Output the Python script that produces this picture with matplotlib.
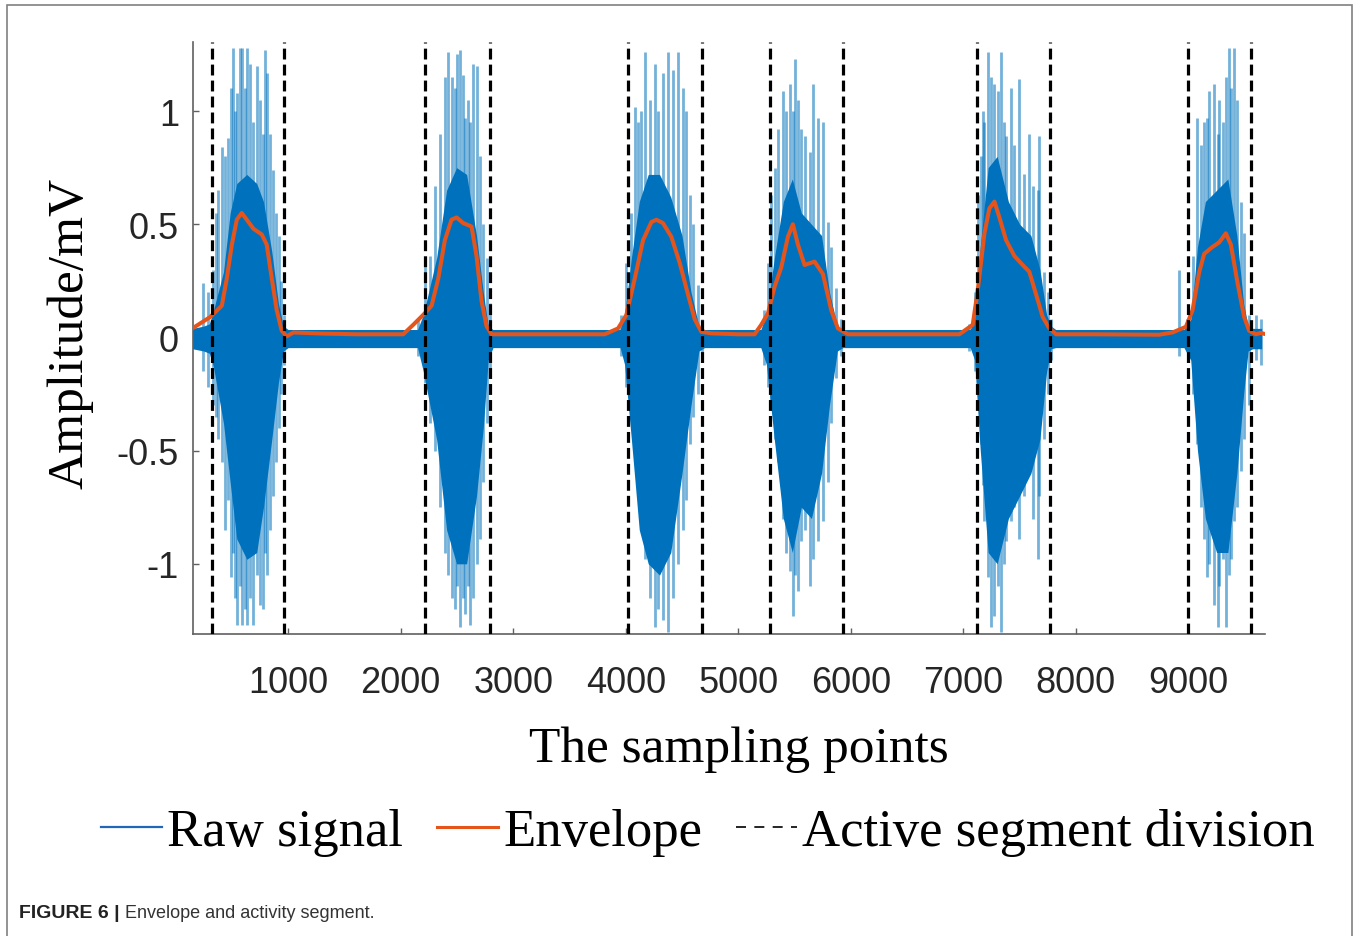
import matplotlib
matplotlib.use("Agg")
import matplotlib.pyplot as plt
from matplotlib.lines import Line2D
from matplotlib.patches import Rectangle

# ---- data ----
# dense core of the raw signal (solid band): x, upper, lower
core_x = [150, 250, 300, 337, 426, 485, 544, 633, 721, 781, 855, 914, 958, 1000,
          2150, 2201, 2319, 2408, 2497, 2586, 2674, 2734, 2778, 2820,
          3950, 3990, 4050, 4120, 4200, 4300, 4400, 4500, 4580, 4650, 4700,
          5200, 5250, 5320, 5400, 5480, 5560, 5650, 5740, 5810, 5880, 5930,
          7060, 7100, 7150, 7220, 7300, 7400, 7500, 7600, 7680, 7740, 7780, 7820,
          8960, 9020, 9080, 9150, 9250, 9350, 9430, 9490, 9530, 9570, 9650]
core_hi = [0.04, 0.05, 0.06, 0.12, 0.29, 0.55, 0.68, 0.72, 0.68, 0.60, 0.38, 0.15, 0.05, 0.035,
           0.035, 0.10, 0.35, 0.65, 0.75, 0.72, 0.45, 0.20, 0.05, 0.035,
           0.035, 0.10, 0.35, 0.60, 0.72, 0.72, 0.62, 0.45, 0.20, 0.05, 0.035,
           0.035, 0.10, 0.35, 0.60, 0.70, 0.55, 0.50, 0.45, 0.20, 0.05, 0.035,
           0.035, 0.08, 0.40, 0.75, 0.80, 0.60, 0.50, 0.45, 0.30, 0.10, 0.05, 0.035,
           0.035, 0.08, 0.40, 0.60, 0.65, 0.70, 0.45, 0.15, 0.05, 0.04, 0.04]
core_lo = [-0.05, -0.06, -0.07, -0.13, -0.38, -0.64, -0.89, -0.98, -0.95, -0.75, -0.45, -0.20, -0.06, -0.045,
           -0.045, -0.15, -0.45, -0.85, -1.00, -1.00, -0.70, -0.40, -0.10, -0.045,
           -0.045, -0.12, -0.45, -0.85, -1.00, -1.05, -0.95, -0.60, -0.30, -0.06, -0.045,
           -0.045, -0.12, -0.45, -0.80, -0.95, -0.75, -0.80, -0.60, -0.30, -0.06, -0.045,
           -0.045, -0.10, -0.50, -0.95, -1.00, -0.80, -0.70, -0.60, -0.45, -0.15, -0.05, -0.045,
           -0.045, -0.10, -0.50, -0.80, -0.95, -0.95, -0.60, -0.25, -0.06, -0.05, -0.05]

# individual spikes of each burst: (x, top, bottom)
spikes_b1 = [(245, 0.24, -0.15), (290, 0.20, -0.22), (330, 0.30, -0.30), (360, 0.55, -0.35),
             (380, 0.65, -0.45), (414, 0.84, -0.55), (440, 0.80, -0.85), (467, 0.88, -0.72),
             (490, 1.10, -1.06), (511, 1.28, -0.95), (530, 1.00, -1.15), (547, 1.08, -1.27),
             (570, 1.28, -1.10), (591, 1.28, -1.27), (615, 1.10, -1.20), (636, 1.28, -1.27),
             (662, 1.21, -1.15), (690, 0.95, -1.27), (724, 1.20, -1.05), (750, 1.05, -1.18),
             (775, 0.90, -1.20), (795, 1.27, -0.95), (813, 1.17, -1.05), (840, 0.90, -0.85),
             (866, 0.74, -0.70), (890, 0.55, -0.55), (915, 0.45, -0.40), (940, 0.25, -0.25),
             (965, 0.10, -0.12)]
spikes_b2 = [(2150, 0.08, -0.08), (2216, 0.33, -0.20), (2260, 0.36, -0.38), (2304, 0.67, -0.50),
             (2348, 0.90, -0.75), (2393, 1.15, -0.95), (2423, 1.26, -1.05), (2452, 1.15, -1.15),
             (2482, 1.10, -1.20), (2497, 1.25, -1.10), (2526, 1.27, -1.28), (2553, 1.16, -1.15),
             (2571, 0.97, -1.22), (2598, 1.05, -1.10), (2615, 0.95, -1.27), (2645, 1.21, -1.15),
             (2677, 1.20, -1.00), (2704, 0.80, -0.89), (2734, 0.50, -0.64), (2763, 0.35, -0.38),
             (2793, 0.15, -0.16)]
spikes_b3 = [(3960, 0.10, -0.08), (4006, 0.33, -0.22), (4050, 0.55, -0.35), (4080, 1.02, -0.47),
             (4110, 0.95, -0.60), (4139, 1.00, -0.80), (4169, 1.26, -0.98), (4213, 1.05, -1.15),
             (4257, 1.21, -1.28), (4287, 1.00, -1.20), (4331, 1.17, -1.25), (4376, 1.26, -1.30),
             (4420, 1.18, -1.15), (4465, 1.26, -1.00), (4509, 1.10, -0.85), (4539, 1.00, -0.72),
             (4568, 0.63, -0.47), (4598, 0.50, -0.35), (4642, 0.23, -0.25), (4680, 0.08, -0.08)]
spikes_b4 = [(5230, 0.12, -0.12), (5264, 0.33, -0.22), (5293, 0.63, -0.30), (5322, 0.75, -0.45),
             (5352, 0.92, -0.55), (5397, 1.09, -0.80), (5426, 1.00, -0.95), (5456, 1.12, -1.03),
             (5485, 1.00, -1.23), (5500, 1.23, -1.05), (5530, 1.05, -1.12), (5560, 0.92, -0.90),
             (5589, 0.89, -0.85), (5633, 0.82, -1.10), (5663, 1.12, -0.98), (5708, 0.97, -0.90),
             (5752, 0.95, -0.81), (5796, 0.51, -0.64), (5826, 0.40, -0.38), (5870, 0.22, -0.18),
             (5910, 0.08, -0.08)]
spikes_b5 = [(7050, 0.06, -0.06), (7100, 0.20, -0.15), (7128, 0.63, -0.22), (7157, 0.80, -0.47),
             (7172, 1.00, -0.65), (7187, 0.95, -0.81), (7216, 1.26, -1.06), (7246, 1.15, -1.28),
             (7276, 1.12, -1.23), (7305, 1.09, -1.10), (7335, 1.26, -1.30), (7364, 0.95, -1.00),
             (7379, 0.89, -0.90), (7424, 1.10, -0.81), (7453, 0.85, -0.75), (7498, 1.14, -0.89),
             (7542, 0.72, -0.70), (7586, 0.90, -0.55), (7616, 0.67, -0.80), (7660, 0.65, -0.98),
             (7675, 0.89, -0.70), (7719, 0.29, -0.45), (7749, 0.20, -0.25), (7780, 0.08, -0.10)]
spikes_b6 = [(8919, 0.30, -0.08), (8990, 0.08, -0.06), (9036, 0.36, -0.25), (9079, 0.97, -0.47),
             (9110, 0.85, -0.75), (9140, 0.95, -0.89), (9167, 0.97, -1.06), (9184, 1.09, -1.00),
             (9228, 1.12, -1.18), (9258, 0.90, -1.28), (9272, 1.05, -1.10), (9303, 0.95, -0.98),
             (9332, 1.15, -1.28), (9361, 1.28, -1.05), (9377, 1.10, -0.98), (9405, 1.28, -0.81),
             (9432, 1.05, -0.75), (9465, 0.60, -0.59), (9495, 0.46, -0.45), (9539, 0.10, -0.30),
             (9599, 0.10, -0.10), (9643, 0.08, -0.12)]

# envelope
env_x = [150, 307, 411, 455, 500, 544, 588, 633, 692, 766, 810, 855, 899, 943, 988, 1047,
         1313, 1609, 2023, 2112, 2201, 2275, 2334, 2393, 2452, 2497, 2556, 2630, 2674, 2719,
         2763, 2808, 2867,
         3814, 3932, 4006, 4080, 4154, 4228, 4272, 4331, 4405, 4479, 4553, 4613, 4672, 4760,
         4997, 5145, 5204, 5264, 5323, 5382, 5441, 5485, 5530, 5589, 5678, 5752, 5826, 5885, 5974,
         6965, 7083, 7128, 7187, 7231, 7276, 7320, 7379, 7453, 7527, 7586, 7646, 7705, 7764,
         7823, 8149, 8740, 8859, 8977, 9036, 9096, 9140, 9214, 9273, 9332, 9377, 9436, 9495,
         9539, 9599, 9643, 9680]
env_y = [0.04, 0.09, 0.14, 0.26, 0.41, 0.52, 0.55, 0.52, 0.48, 0.455, 0.41, 0.26, 0.12, 0.03,
         0.005, 0.022, 0.017, 0.014, 0.014, 0.056, 0.10, 0.14, 0.26, 0.43, 0.52, 0.53, 0.505,
         0.49, 0.36, 0.16, 0.05, 0.014, 0.014,
         0.014, 0.04, 0.10, 0.26, 0.43, 0.51, 0.52, 0.505, 0.445, 0.33, 0.19, 0.08, 0.025, 0.018,
         0.014, 0.014, 0.056, 0.107, 0.225, 0.31, 0.445, 0.50, 0.41, 0.32, 0.335, 0.28, 0.12,
         0.04, 0.014,
         0.014, 0.056, 0.21, 0.46, 0.57, 0.60, 0.53, 0.43, 0.36, 0.32, 0.29, 0.19, 0.09, 0.04,
         0.014, 0.014, 0.012, 0.022, 0.047, 0.12, 0.29, 0.37, 0.40, 0.42, 0.46, 0.41, 0.24, 0.09,
         0.03, 0.014, 0.02, 0.015]

# active segment boundaries
seg_x = [320, 960, 2216, 2793, 4017, 4675, 5279, 5929, 7123, 7773, 9000, 9554]

xticks = [1000, 2000, 3000, 4000, 5000, 6000, 7000, 8000, 9000]
yticks = [-1, -0.5, 0, 0.5, 1]
ytick_labels = ["-1", "-0.5", "0", "0.5", "1"]

BLUE = "#0072BD"
ORANGE = "#E5541B"
SERIF = "Liberation Serif"
SANS = "Liberation Sans"

W, H = 1360, 937
fig = plt.figure(figsize=(W / 100, H / 100), dpi=100)
ax = fig.add_axes([193 / W, 1 - 635 / H, (1265 - 193) / W, (635 - 43) / H])

# raw signal
spikes = spikes_b1 + spikes_b2 + spikes_b3 + spikes_b4 + spikes_b5 + spikes_b6
sx = [s[0] for s in spikes]
shi = [s[1] for s in spikes]
slo = [s[2] for s in spikes]
ax.vlines(sx, slo, shi, color=BLUE, lw=2.0, alpha=0.55, zorder=1)
ax.fill_between(core_x, core_lo, core_hi, color=BLUE, lw=0, zorder=2)

ax.plot(env_x, env_y, color=ORANGE, lw=2.9, zorder=3,
        solid_joinstyle="round", solid_capstyle="round")

for x in seg_x:
    ax.axvline(x, color="black", lw=2.3, ls=(0, (3.4, 1.6)), zorder=4)

ax.set_xlim(155, 9680)
ax.set_ylim(-1.31, 1.305)
for s in ["top", "right"]:
    ax.spines[s].set_visible(False)
for s in ["left", "bottom"]:
    ax.spines[s].set_color("#606060")
    ax.spines[s].set_linewidth(1.2)

ax.set_xticks(xticks)
ax.set_xticklabels([str(t) for t in xticks])
ax.set_yticks(yticks)
ax.set_yticklabels(ytick_labels)
ax.tick_params(direction="in", length=4, width=1, colors="#606060",
               labelcolor="#262626", labelsize=26)
ax.tick_params(axis="x", pad=22)
ax.tick_params(axis="y", pad=10)
for lab in ax.get_xticklabels() + ax.get_yticklabels():
    lab.set_family(SANS)

fig.text(739 / W, 1 - 750 / H, "The sampling points", family=SERIF, fontsize=37,
         ha="center", va="center")
fig.text(70 / W, 1 - 333 / H, "Amplitude/mV", family=SERIF, fontsize=37,
         ha="center", va="center", rotation=90)

handles = [Line2D([], [], color="#2166b8", lw=1.6),
           Line2D([], [], color=ORANGE, lw=2.2),
           Line2D([], [], color="black", lw=1.2, ls=(0, (6, 5)))]
fig.legend(handles, ["Raw signal", "Envelope", "Active segment division"],
           loc="center", bbox_to_anchor=(708 / W, 1 - 833 / H), ncol=3, frameon=False,
           prop={"family": SERIF, "size": 38}, handlelength=1.15, handletextpad=0.1,
           columnspacing=0.65)

fig.text(19 / W, 1 - 914 / H, "FIGURE 6 |", family=[SANS], fontweight="bold",
         fontsize=14, color="#222222", va="center")
fig.text(125 / W, 1 - 914 / H, "Envelope and activity segment.", family=[SANS],
         fontsize=13, color="#333333", va="center")

fig.patches.append(Rectangle((7 / W, -0.01), (1352 - 7) / W, 1 - 6 / H + 0.01,
                             transform=fig.transFigure, fill=False, ec="#808080", lw=1.2))

fig.savefig("out.png", dpi=100)
